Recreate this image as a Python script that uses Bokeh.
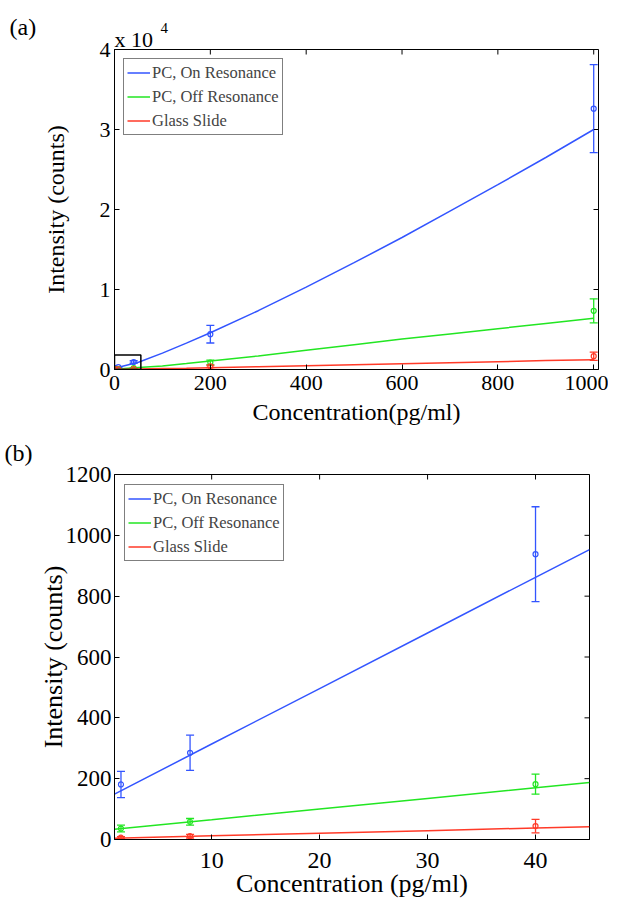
import math
from bokeh.plotting import figure
from bokeh.models import (ColumnDataSource, Whisker, TeeHead, Range1d, FixedTicker,
                          Legend, LegendItem, BoxAnnotation, Title)
from bokeh.layouts import column
from bokeh.embed import file_html
from bokeh.resources import INLINE

# ---------------- data ----------------
conc = [1.6, 8, 40, 200, 1000]
on_res = [181, 285, 938, 4410, 32600]
on_err = [43, 58, 156, 1100, 5500]
off_res = [36, 58, 182, 875, 7330]
off_err = [11, 11, 33, 300, 1500]
glass = [6, 11, 44, 400, 1660]
glass_err = [3, 6, 22, 150, 520]

# fitted curves, panel (a)
fit_a_x = [0, 50, 100, 150, 200, 300, 400, 500, 600, 700, 800, 900, 1000]
fit_a_on = [150, 900, 2050, 3300, 4600, 7350, 10300, 13350, 16500, 19800, 23100, 26500, 30000]
fit_a_off = [30, 240, 450, 740, 1050, 1700, 2400, 3100, 3800, 4450, 5100, 5750, 6400]
fit_a_glass = [5, 60, 115, 170, 230, 350, 470, 590, 720, 850, 980, 1110, 1230]

# fitted lines, panel (b)
fit_b_x = [1, 10, 20, 30, 40, 45]
fit_b_on = [149, 314, 496, 679, 862, 953]
fit_b_off = [34, 65, 100, 135, 170, 187]
fit_b_glass = [4.5, 12, 20.5, 29, 38, 42]

labels = ["PC, On Resonance", "PC, Off Resonance", "Glass Slide"]
colors = ["#3355ff", "#22e622", "#ff3a28"]

a_xrange = [0, 1010]
a_yrange = [0, 40000]
a_xticks = [0, 200, 400, 600, 800, 1000]
a_yticks = [0, 10000, 20000, 30000, 40000]
a_ytick_labels = ["0", "1", "2", "3", "4"]
b_xrange = [1, 45]
b_yrange = [0, 1200]
b_xticks = [10, 20, 30, 40]
b_yticks = [0, 200, 400, 600, 800, 1000, 1200]

zoom_box_x = [0, 55]
zoom_box_y = [0, 1800]

FONT = "Liberation Serif"


def style_axis(ax, size):
    ax.major_tick_in = 5
    ax.major_tick_out = 0
    ax.minor_tick_line_color = None
    ax.axis_line_color = "black"
    ax.major_tick_line_color = "black"
    ax.major_label_text_font = FONT
    ax.major_label_text_color = "black"
    ax.major_label_text_font_size = size
    ax.axis_label_text_font = FONT
    ax.axis_label_text_font_style = "normal"
    ax.axis_label_text_color = "black"


def add_frame_ticks(p, xr, yr, xt, yt):
    # inward tick marks on the top and right frame edges (outer half is clipped)
    p.scatter(xt, [yr[1]] * len(xt), marker="dash", size=10, angle=math.pi / 2,
              line_color="black", line_width=1)
    p.scatter([xr[1]] * len(yt), yt, marker="dash", size=10, angle=0,
              line_color="black", line_width=1)


def make_panel(p, fx, fits, xs_pts, series, errs, legend_margin):
    rends = []
    for fy, col in zip(fits, colors):
        r = p.line(fx, fy, line_color=col, line_width=1.5)
        rends.append(r)
    for ys, es, col in zip(series, errs, colors):
        src = ColumnDataSource(dict(
            x=xs_pts,
            y=ys,
            upper=[y + e for y, e in zip(ys, es)],
            lower=[y - e for y, e in zip(ys, es)],
        ))
        w = Whisker(source=src, base="x", upper="upper", lower="lower", dimension="height",
                    line_color=col, line_width=1.3,
                    upper_head=TeeHead(size=8, line_color=col, line_width=1.3),
                    lower_head=TeeHead(size=8, line_color=col, line_width=1.3))
        p.add_layout(w)
        p.scatter("x", "y", source=src, marker="circle", size=5, fill_color=None,
                  line_color=col, line_width=1.2)
    leg = Legend(items=[LegendItem(label=l, renderers=[r]) for l, r in zip(labels, rends)],
                 location="top_left", label_text_font=FONT, label_text_font_size="16.5px",
                 glyph_width=23, glyph_height=21, label_height=21, label_standoff=2,
                 spacing=3, padding=3, margin=legend_margin,
                 border_line_color="black", border_line_width=1,
                 background_fill_color="white", background_fill_alpha=1.0)
    p.add_layout(leg)


def title(text, size, offset, standoff):
    return Title(text=text, align="left", offset=offset, standoff=standoff,
                 vertical_align="bottom", text_font=FONT, text_font_size=size,
                 text_font_style="normal", text_color="black")


# ---------------- panel (a) ----------------
pa = figure(title=None, frame_width=484, frame_height=320, min_border_left=109,
            min_border_right=15, min_border_top=49, min_border_bottom=59,
            x_range=Range1d(*a_xrange), y_range=Range1d(*a_yrange),
            output_backend="svg", toolbar_location=None, background_fill_color="white",
            border_fill_color="white")
pa.grid.visible = False
pa.outline_line_color = "black"
pa.xaxis.ticker = FixedTicker(ticks=a_xticks)
pa.yaxis.ticker = FixedTicker(ticks=a_yticks)
pa.yaxis.major_label_overrides = {t: s for t, s in zip(a_yticks, a_ytick_labels)}
style_axis(pa.xaxis[0], "22px")
style_axis(pa.yaxis[0], "22px")
pa.xaxis.axis_label = "Concentration(pg/ml)"
pa.yaxis.axis_label = "Intensity (counts)"
pa.xaxis.axis_label_text_font_size = "24px"
pa.yaxis.axis_label_text_font_size = "24px"
pa.xaxis.major_label_standoff = 6
pa.xaxis.axis_label_standoff = 6
pa.yaxis.major_label_standoff = 4
pa.yaxis.axis_label_standoff = 28
add_frame_ticks(pa, a_xrange, a_yrange, a_xticks, a_yticks)

make_panel(pa, fit_a_x, [fit_a_on, fit_a_off, fit_a_glass], conc,
           [on_res, off_res, glass], [on_err, off_err, glass_err], 9)

pa.add_layout(BoxAnnotation(left=zoom_box_x[0], right=zoom_box_x[1], bottom=zoom_box_y[0],
                            top=zoom_box_y[1], fill_alpha=0, line_color="black",
                            line_alpha=1.0, line_width=1.5))

# texts above the frame (first added = nearest the frame)
pa.add_layout(title("x 10", "22px", 0, -4), "above")
pa.add_layout(title("4", "15px", 46, -12), "above")
pa.add_layout(title("(a)", "24px", -105, -27), "above")

# ---------------- panel (b) ----------------
bx = [x for x in conc if x <= b_xrange[1]]
n = len(bx)
pb = figure(title=None, frame_width=475, frame_height=365, min_border_left=114,
            min_border_right=19, min_border_top=45, min_border_bottom=57,
            x_range=Range1d(*b_xrange), y_range=Range1d(*b_yrange),
            output_backend="svg", toolbar_location=None, background_fill_color="white",
            border_fill_color="white")
pb.grid.visible = False
pb.outline_line_color = "black"
pb.xaxis.ticker = FixedTicker(ticks=b_xticks)
pb.yaxis.ticker = FixedTicker(ticks=b_yticks)
style_axis(pb.xaxis[0], "24px")
style_axis(pb.yaxis[0], "23px")
pb.xaxis.axis_label = "Concentration (pg/ml)"
pb.xaxis.axis_label_text_font_size = "26px"
pb.yaxis.axis_label = "Intensity (counts)"
pb.yaxis.axis_label_text_font_size = "26px"
pb.xaxis.major_label_standoff = 13
pb.xaxis.axis_label_standoff = -2
pb.yaxis.major_label_standoff = 3
pb.yaxis.axis_label_standoff = -5
add_frame_ticks(pb, b_xrange, b_yrange, b_xticks, b_yticks)

make_panel(pb, fit_b_x, [fit_b_on, fit_b_off, fit_b_glass], bx,
           [on_res[:n], off_res[:n], glass[:n]], [on_err[:n], off_err[:n], glass_err[:n]], 10)

pb.add_layout(title("(b)", "24px", -110, 18), "above")

layout = column(pa, pb, spacing=0)
open("out.html", "w").write(file_html(layout, INLINE))
